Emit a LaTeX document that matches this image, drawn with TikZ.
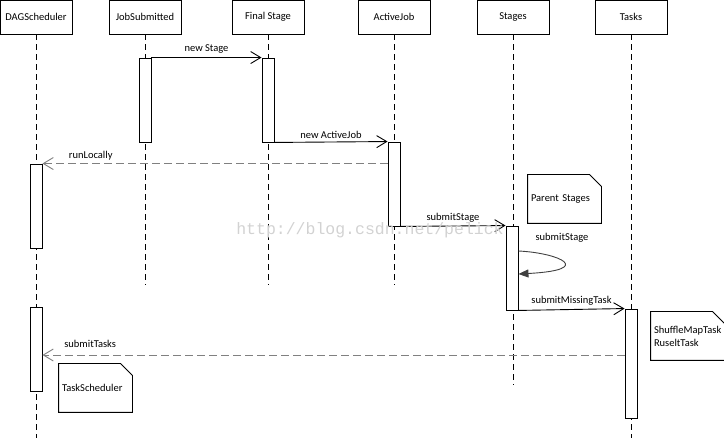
\documentclass[tikz,border=0pt]{standalone}
\usepackage{fontspec}
\setmainfont{Carlito}
\newfontfamily\markfont{Liberation Mono}
\usetikzlibrary{arrows.meta,positioning}

\begin{document}
\begin{tikzpicture}[x=1pt, y=-1pt, line width=0.9pt, font=\fontsize{10.5}{13}\selectfont,
        head/.style={rectangle, draw, minimum width=72pt, minimum height=34pt, inner sep=0pt},
        life/.style={dash pattern=on 6pt off 4pt},
        act/.style={rectangle, draw, fill=white, minimum width=12pt, inner sep=0pt},
        call/.style={-{Straight Barb[length=10pt,width=12pt]}},
        ret/.style={gray, dash pattern=on 8pt off 4pt, -{Straight Barb[length=10pt,width=12pt]}},
        note/.style={rectangle, inner sep=3pt, text width=67pt, minimum height=48pt, align=left}]
        \useasboundingbox (0,0) rectangle (724,438);

        % lifelines
        \node[head] (dag) at (36,17) {DAGScheduler};
        \node[head] (job) at (145,17) {JobSubmitted};
        \node[head] (final) at (268,17) {Final Stage};
        \node[head] (aj) at (394,17) {ActiveJob};
        \node[head] (stages) at (513,17) {Stages};
        \node[head] (tasks) at (631,17) {Tasks};

        \draw[life] (dag.south) -- ++(0,404);
        \draw[life] (job.south) -- ++(0,251);
        \draw[life] (final.south) -- ++(0,251);
        \draw[life] (aj.south) -- ++(0,251);
        \draw[life] (stages.south) -- ++(0,351);
        \draw[life] (tasks.south) -- ++(0,404);

        % activations
        \node[act, minimum height=84pt] (job1) at (145,100) {};
        \node[act, minimum height=84pt] (final1) at (268,100) {};
        \node[act, minimum height=84pt] (aj1) at (394,184) {};
        \node[act, minimum height=84pt] (dag1) at (36,206) {};
        \node[act, minimum height=84pt] (stg1) at (512,268) {};
        \node[act, minimum height=84pt] (dag2) at (36,349) {};
        \node[act, minimum height=109pt] (tasks1) at (631,363.5) {};

        % messages
        \draw[call] (job1.north east) -- node[above] {new Stage} (final1.north west);
        \draw[call] (final1.south east) -- node[above] {new ActiveJob} (aj1.north west);
        \draw[ret] (aj1.west |- dag1.north) -- node[above, pos=0.86, text=black] {runLocally} (dag1.north east);
        \draw[call] (aj1.south east) -- node[above] {submitStage} (stg1.north west);
        \draw[black!75, -{Triangle[length=10pt,width=8pt]}] (stg1.east |- 0,251)
            .. controls (560,253) and (595,270) .. (stg1.east |- 0,274);
        \node (loop) at (562,238) {submitStage};
        \draw[call] (stg1.south east) -- node[above] {submitMissingTask} (tasks1.north west);
        \draw[ret] (tasks1.west |- 0,355) -- node[above=4pt, pos=0.918, text=black] {submitTasks} (dag2.east |- 0,355);

        % notes
        \node[note] (parent) at (564.5,199) {Parent Stages};
        \node[note] (tsched) at (95.5,388) {TaskScheduler};
        \node[note] (shuffle) at (687.5,336) {ShuffleMapTask\\RuseltTask};
        \foreach \n in {parent,tsched,shuffle}
            \draw (\n.north west) -- ([xshift=-12pt]\n.north east)
                -- ([yshift=-12pt]\n.north east) |- (\n.south west) -- cycle;

        \node[text=gray!35, font=\markfont\fontsize{16.5}{17}\selectfont] (mark) at (370,230) {http://blog.csdn.net/pelick};
    \end{tikzpicture}
\end{document}
